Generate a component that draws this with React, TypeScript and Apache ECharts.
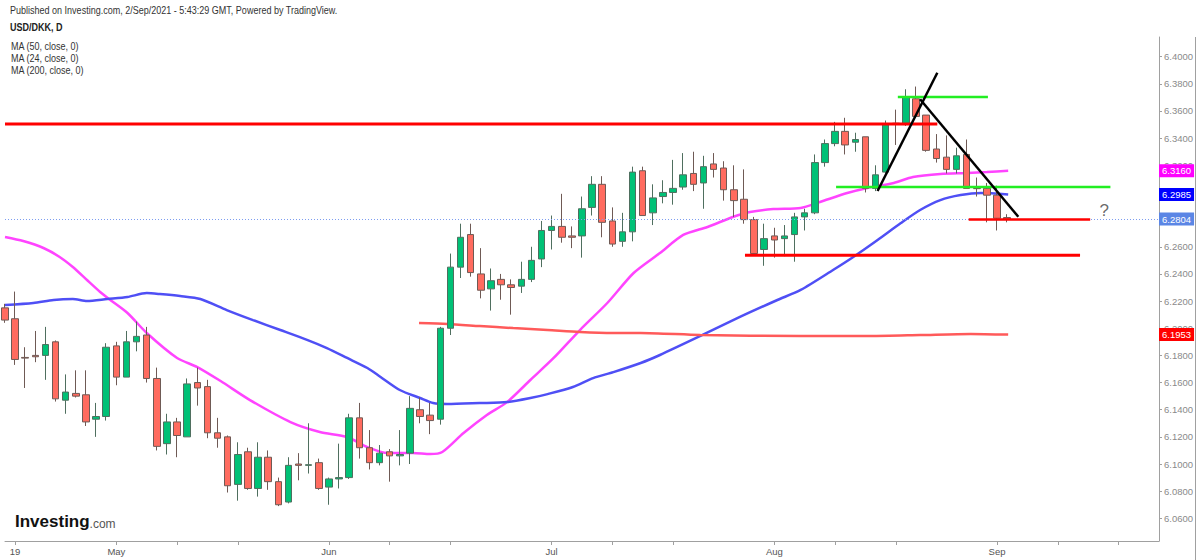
import React, { useEffect, useRef } from "react";
import * as echarts from "echarts";

// Trading-day index of the first candle (Fri Apr 16, 2021). Index 0 = Mon Apr 19, 2021.
const FIRST_INDEX = -1;
const FIRST_DATE = "2021-04-16";

// Daily candles: [open, close, low, high]
const candles: number[][] = [
  [6.215, 6.206, 6.204, 6.218],
  [6.207, 6.177, 6.173, 6.227],
  [6.1785, 6.178, 6.156, 6.186],
  [6.180, 6.179, 6.175, 6.198],
  [6.180, 6.188, 6.162, 6.201],
  [6.190, 6.148, 6.146, 6.191],
  [6.147, 6.153, 6.137, 6.166],
  [6.152, 6.150, 6.149, 6.169],
  [6.151, 6.131, 6.128, 6.169],
  [6.133, 6.135, 6.120, 6.145],
  [6.135, 6.186, 6.132, 6.189],
  [6.187, 6.164, 6.158, 6.190],
  [6.164, 6.190, 6.164, 6.198],
  [6.190, 6.194, 6.183, 6.205],
  [6.195, 6.163, 6.160, 6.201],
  [6.163, 6.113, 6.110, 6.171],
  [6.115, 6.131, 6.107, 6.137],
  [6.131, 6.121, 6.105, 6.134],
  [6.120, 6.159, 6.120, 6.163],
  [6.160, 6.156, 6.143, 6.171],
  [6.157, 6.123, 6.119, 6.162],
  [6.123, 6.119, 6.112, 6.134],
  [6.120, 6.084, 6.079, 6.121],
  [6.085, 6.107, 6.073, 6.116],
  [6.109, 6.082, 6.081, 6.112],
  [6.082, 6.105, 6.076, 6.116],
  [6.105, 6.087, 6.081, 6.110],
  [6.087, 6.070, 6.069, 6.090],
  [6.072, 6.099, 6.071, 6.105],
  [6.100, 6.099, 6.088, 6.108],
  [6.099, 6.0995, 6.093, 6.130],
  [6.101, 6.082, 6.081, 6.104],
  [6.083, 6.089, 6.070, 6.090],
  [6.089, 6.090, 6.082, 6.115],
  [6.090, 6.134, 6.089, 6.137],
  [6.134, 6.112, 6.104, 6.145],
  [6.112, 6.101, 6.096, 6.125],
  [6.101, 6.108, 6.099, 6.114],
  [6.109, 6.106, 6.087, 6.111],
  [6.106, 6.107, 6.099, 6.125],
  [6.108, 6.141, 6.100, 6.150],
  [6.140, 6.135, 6.130, 6.149],
  [6.136, 6.132, 6.122, 6.145],
  [6.133, 6.200, 6.129, 6.201],
  [6.200, 6.245, 6.195, 6.255],
  [6.245, 6.267, 6.237, 6.277],
  [6.269, 6.241, 6.238, 6.277],
  [6.240, 6.228, 6.222, 6.259],
  [6.229, 6.235, 6.213, 6.244],
  [6.236, 6.232, 6.221, 6.240],
  [6.232, 6.230, 6.210, 6.236],
  [6.231, 6.236, 6.226, 6.249],
  [6.236, 6.250, 6.234, 6.260],
  [6.251, 6.272, 6.245, 6.279],
  [6.272, 6.275, 6.258, 6.283],
  [6.275, 6.267, 6.263, 6.299],
  [6.268, 6.267, 6.259, 6.275],
  [6.268, 6.288, 6.252, 6.297],
  [6.289, 6.306, 6.283, 6.312],
  [6.306, 6.278, 6.267, 6.312],
  [6.279, 6.262, 6.260, 6.289],
  [6.264, 6.271, 6.260, 6.285],
  [6.271, 6.315, 6.264, 6.319],
  [6.316, 6.283, 6.283, 6.319],
  [6.285, 6.296, 6.276, 6.306],
  [6.297, 6.300, 6.292, 6.309],
  [6.300, 6.303, 6.291, 6.324],
  [6.304, 6.313, 6.302, 6.329],
  [6.314, 6.306, 6.301, 6.330],
  [6.307, 6.319, 6.288, 6.327],
  [6.321, 6.317, 6.311, 6.329],
  [6.318, 6.302, 6.294, 6.323],
  [6.302, 6.294, 6.282, 6.320],
  [6.295, 6.280, 6.277, 6.317],
  [6.280, 6.255, 6.254, 6.282],
  [6.258, 6.266, 6.246, 6.277],
  [6.268, 6.265, 6.252, 6.274],
  [6.266, 6.268, 6.253, 6.276],
  [6.269, 6.282, 6.249, 6.285],
  [6.282, 6.285, 6.272, 6.288],
  [6.285, 6.322, 6.284, 6.328],
  [6.322, 6.336, 6.319, 6.339],
  [6.336, 6.345, 6.334, 6.352],
  [6.345, 6.335, 6.328, 6.355],
  [6.337, 6.339, 6.330, 6.344],
  [6.341, 6.303, 6.300, 6.341],
  [6.303, 6.313, 6.301, 6.320],
  [6.315, 6.350, 6.314, 6.353],
  [6.351, 6.3505, 6.335, 6.361],
  [6.350, 6.370, 6.349, 6.376],
  [6.369, 6.356, 6.355, 6.378],
  [6.357, 6.331, 6.330, 6.357],
  [6.332, 6.325, 6.322, 6.343],
  [6.326, 6.317, 6.314, 6.342],
  [6.317, 6.327, 6.314, 6.333],
  [6.328, 6.303, 6.303, 6.339],
  [6.303, 6.3028, 6.297, 6.311],
  [6.303, 6.298, 6.278, 6.307],
  [6.298, 6.281, 6.272, 6.305],
  [6.2815, 6.2804, 6.278, 6.284],
];

// Moving averages: [trading-day index, value]
const ma24: number[][] = [
  [-1, 6.2672], [0.8, 6.2642], [2.8, 6.2591], [4.4, 6.2525], [5.7, 6.2451], [7.1, 6.2355],
  [8.4, 6.2267], [9.4, 6.2208], [11.1, 6.2112], [13.0, 6.1965], [16.0, 6.1781], [18.0, 6.1714],
  [20.3, 6.1611], [23.2, 6.1471], [27.2, 6.1309], [30.1, 6.1236], [32.8, 6.1199], [34.8, 6.1125],
  [36.8, 6.1081], [39.3, 6.1081], [41.0, 6.1073], [42.2, 6.1088], [44.3, 6.1228], [46.6, 6.1361],
  [48.6, 6.1456], [50.9, 6.1619], [53.2, 6.1781], [55.8, 6.1987], [58.5, 6.2186], [61.1, 6.2407],
  [63.7, 6.2554], [66.0, 6.2687], [68.4, 6.2746], [70.9, 6.2819], [72.6, 6.2856], [74.9, 6.2878],
  [77.6, 6.2886], [79.5, 6.2930], [82.2, 6.2996], [84.2, 6.3033], [86.8, 6.3070], [88.7, 6.3114],
  [91.4, 6.3136], [94.1, 6.3143], [96.0, 6.3150], [98.1, 6.3160],
];
const ma50: number[][] = [
  [-1, 6.2171], [1.8, 6.2186], [3.8, 6.2208], [5.7, 6.2215], [7.1, 6.2200], [9.1, 6.2215],
  [11.1, 6.2230], [13.0, 6.2259], [14.3, 6.2252], [16.3, 6.2237], [18.3, 6.2215], [20.9, 6.2134],
  [23.5, 6.2060], [26.2, 6.1987], [28.9, 6.1913], [30.8, 6.1854], [32.8, 6.1781], [34.8, 6.1707],
  [36.1, 6.1641], [38.0, 6.1545], [40.0, 6.1486], [41.3, 6.1449], [42.7, 6.1442], [45.9, 6.1449],
  [48.6, 6.1456], [50.9, 6.1486], [52.6, 6.1515], [55.1, 6.1567], [57.1, 6.1633], [59.1, 6.1677],
  [61.8, 6.1744], [63.7, 6.1803], [67.7, 6.1943], [71.6, 6.2083], [75.3, 6.2208], [77.6, 6.2282],
  [80.8, 6.2429], [82.8, 6.2525], [85.2, 6.2650], [87.5, 6.2775], [89.4, 6.2871], [91.4, 6.2944],
  [93.4, 6.2981], [95.4, 6.2996], [98.1, 6.2985],
];
const ma200: number[][] = [
  [39.9, 6.2038], [42.7, 6.2031], [45.9, 6.2016], [49.2, 6.2001], [52.6, 6.1987], [55.8, 6.1972],
  [59.1, 6.1965], [61.8, 6.1965], [67.7, 6.1950], [77.6, 6.1943], [84.5, 6.1943], [89.4, 6.1950],
  [94.4, 6.1958], [98.1, 6.1953],
];

// Hand-drawn annotations: [trading-day index, price]
const resistanceTop: number[][] = [[-1, 6.3504], [91.1, 6.3504]];
const flagTop: number[][] = [[87.2, 6.3703], [96.1, 6.3703]];
const flagBottom: number[][] = [[81.1, 6.3040], [108.2, 6.3040]];
const trendUp: number[][] = [[85.2, 6.3011], [91.1, 6.3882]];
const trendDown: number[][] = [[89.4, 6.3686], [99.1, 6.2821]];
const supportNear: number[][] = [[94.2, 6.2800], [106.2, 6.2800]];
const supportLow: number[][] = [[72.1, 6.2538], [105.2, 6.2538]];
const questionMark: number[][] = [[107.6, 6.2870]];

// Axes
const yMin = 6.0433;
const yMax = 6.4145;
const yTicks = [6.06, 6.08, 6.10, 6.12, 6.14, 6.16, 6.18, 6.20, 6.22, 6.24, 6.26, 6.28, 6.30, 6.32, 6.34, 6.36, 6.38, 6.40];
// labels fully covered by the price tags in the reference are left out
const yLabels = [6.06, 6.08, 6.10, 6.12, 6.14, 6.16, 6.18, 6.20, 6.22, 6.24, 6.26, 6.32, 6.34, 6.36, 6.38, 6.40];
const xMin = -1;
const xMax = 113;
const xTickIdx = [0, 10, 16, 22, 31, 37, 43, 53, 59, 65, 75, 81, 87, 97, 103, 109];
const xLabelIdx = [0, 10, 31, 53, 75, 97];
const xLabelText = ["19", "May", "Jun", "Jul", "Aug", "Sep"];

// Price tags on the right axis
const lastPrice = 6.2804;
const tagValues = [6.3160, 6.2985, 6.2804, 6.1953];
const tagColors = ["#ff00ff", "#0000ff", "#5b86e5", "#ff0000"];

const FONT = "'Liberation Sans', Arial, sans-serif";
const NARROW = 0.82; // the reference text is horizontally condensed

// weekday calendar, one category per trading day from FIRST_DATE up to xMax
function tradingDays(start: string, count: number): string[] {
  const out: string[] = [];
  const d = new Date(start + "T00:00:00Z");
  while (out.length < count) {
    const wd = d.getUTCDay();
    if (wd !== 0 && wd !== 6) out.push(d.toISOString().slice(0, 10));
    d.setUTCDate(d.getUTCDate() + 1);
  }
  return out;
}

export default function App() {
  const ref = useRef<HTMLDivElement>(null);

  useEffect(() => {
    document.body.style.margin = "0";
    if (!ref.current) return;
    const chart = echarts.init(ref.current, undefined, { renderer: "svg" });

    const categories = tradingDays(FIRST_DATE, xMax - FIRST_INDEX + 1);

    const annotation = (data: number[][], color: string, width: number) => ({
      type: "line",
      xAxisIndex: 1,
      data,
      showSymbol: false,
      symbol: "none",
      silent: true,
      z: 10,
      lineStyle: { color, width, cap: "butt" },
    });

    const maLine = (data: number[][], color: string) => ({
      type: "line",
      xAxisIndex: 1,
      data,
      showSymbol: false,
      symbol: "none",
      smooth: 0.25,
      silent: true,
      z: 1,
      lineStyle: { color, width: 2.5 },
    });

    const tagAxes = tagValues.map((v, i) => ({
      type: "value",
      min: yMin,
      max: yMax,
      position: "right",
      z: 20 + i,
      axisLine: { show: false, onZero: false },
      axisTick: { show: false },
      splitLine: { show: false },
      axisLabel: {
        customValues: [v],
        formatter: (val: number) => val.toFixed(4),
        color: "#ffffff",
        backgroundColor: tagColors[i],
        fontSize: 9.5,
        fontFamily: FONT,
        lineHeight: 11,
        padding: [1, 3, 1, 3],
        margin: 0,
      },
    }));

    const headerText = (text: string, left: number, top: number, font: string, fill: string) => ({
      type: "text",
      left,
      top,
      scaleX: NARROW,
      style: { text, fill, font },
    });

    chart.setOption({
      animation: false,
      backgroundColor: "#ffffff",
      grid: { left: 5, right: 41, top: 37, bottom: 19, containLabel: false },
      xAxis: [
        {
          type: "category",
          data: categories,
          boundaryGap: false,
          show: false,
          axisLine: { show: false, onZero: false },
          axisTick: { show: false },
          axisLabel: { show: false },
          splitLine: { show: false },
        },
        {
          type: "value",
          min: xMin,
          max: xMax,
          position: "bottom",
          axisLine: { show: true, onZero: false, lineStyle: { color: "#a0a0a0", width: 1 } },
          axisTick: { show: true, customValues: xTickIdx, length: 4, lineStyle: { color: "#a0a0a0" } },
          axisLabel: {
            customValues: xLabelIdx,
            formatter: (v: number) => xLabelText[xLabelIdx.indexOf(Math.round(v))] ?? "",
            color: "#555555",
            fontSize: 9.5,
            fontFamily: FONT,
            margin: 5,
          },
          splitLine: { show: false },
        },
      ],
      yAxis: [
        {
          type: "value",
          min: yMin,
          max: yMax,
          position: "right",
          axisLine: { show: true, onZero: false, lineStyle: { color: "#a0a0a0", width: 1 } },
          axisTick: { show: true, customValues: yTicks, length: 3, lineStyle: { color: "#a0a0a0" } },
          axisLabel: {
            customValues: yLabels,
            formatter: (v: number) => v.toFixed(4),
            color: "#8a8a8a",
            fontSize: 9.5,
            fontFamily: FONT,
            margin: 5,
          },
          splitLine: { show: false },
        },
        ...tagAxes,
      ],
      series: [
        maLine(ma24, "#ff44ff"),
        maLine(ma50, "#4f4ff5"),
        maLine(ma200, "#ff5a5a"),
        {
          type: "candlestick",
          xAxisIndex: 0,
          data: candles,
          barWidth: 7,
          z: 3,
          itemStyle: {
            color: "#00c176",
            color0: "#ff6b5f",
            borderColor: "#4f6f5f",
            borderColor0: "#6f5a55",
            borderWidth: 1,
          },
        },
        {
          type: "line",
          xAxisIndex: 1,
          data: [],
          silent: true,
          markLine: {
            silent: true,
            symbol: ["none", "none"],
            label: { show: false },
            lineStyle: { type: [1, 2], color: "#7d9df0", width: 1 },
            data: [{ yAxis: lastPrice }],
          },
        },
        annotation(resistanceTop, "#ff0000", 3),
        annotation(supportLow, "#ff0000", 3),
        annotation(supportNear, "#ff0000", 2.5),
        annotation(flagTop, "#22ee22", 2.5),
        annotation(flagBottom, "#22ee22", 2.5),
        annotation(trendUp, "#000000", 2.5),
        annotation(trendDown, "#000000", 2.5),
        {
          type: "scatter",
          xAxisIndex: 1,
          data: questionMark,
          symbolSize: 1,
          silent: true,
          z: 11,
          itemStyle: { color: "rgba(0,0,0,0)" },
          label: {
            show: true,
            position: "inside",
            formatter: "?",
            color: "#444444",
            fontSize: 17,
            fontFamily: FONT,
          },
        },
      ],
      graphic: [
        headerText(
          "Published on Investing.com, 2/Sep/2021 - 5:43:29 GMT, Powered by TradingView.",
          10, 5, `11px ${FONT}`, "#333333"
        ),
        headerText("USD/DKK, D", 10, 22, `bold 11px ${FONT}`, "#222222"),
        headerText("MA (50, close, 0)", 11, 41, `11px ${FONT}`, "#333333"),
        headerText("MA (24, close, 0)", 11, 53, `11px ${FONT}`, "#333333"),
        headerText("MA (200, close, 0)", 11, 65, `11px ${FONT}`, "#333333"),
        {
          type: "text",
          left: 15,
          top: 513,
          style: {
            text: "{a|Investing}{b|.com}",
            rich: {
              a: { fill: "#111111", font: `bold 17px ${FONT}` },
              b: { fill: "#555555", font: `12px ${FONT}`, padding: [4, 0, 0, 0] },
            },
          },
        },
        {
          type: "line",
          shape: { x1: 1195.5, y1: 37, x2: 1195.5, y2: 560 },
          style: { stroke: "#a0a0a0", lineWidth: 1 },
          silent: true,
        },
      ],
    });

    return () => {
      chart.dispose();
    };
  }, []);

  return <div ref={ref} style={{ width: 1200, height: 560 }} />;
}
